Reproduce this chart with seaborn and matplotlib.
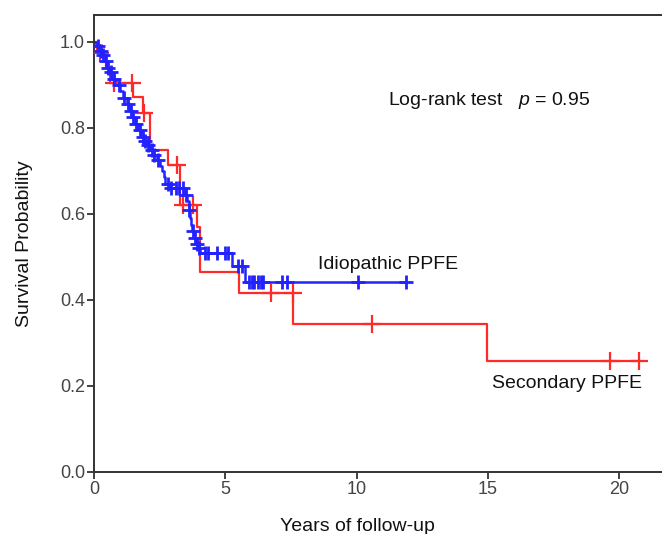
import numpy as np
import pandas as pd
import matplotlib
matplotlib.use("Agg")
import matplotlib.pyplot as plt
import seaborn as sns

# ---------------- data ----------------
# Idiopathic PPFE: Kaplan-Meier step curve (event times, survival after event)
idio_times = [0, 0.08, 0.2, 0.3, 0.4, 0.5, 0.6, 0.7, 0.85, 1.0, 1.1, 1.25, 1.37, 1.45,
              1.55, 1.68, 1.8, 1.9, 2.0, 2.13, 2.25, 2.4, 2.5, 2.6, 2.65, 2.72, 2.9,
              3.45, 3.55, 3.6, 3.65, 3.7, 3.75, 3.8, 3.88, 3.95, 4.04, 5.26, 5.75]
idio_surv = [1.0, 0.99, 0.98, 0.97, 0.955, 0.94, 0.93, 0.915, 0.90, 0.885, 0.87, 0.855,
             0.84, 0.825, 0.81, 0.795, 0.78, 0.77, 0.76, 0.748, 0.737, 0.725, 0.712, 0.70,
             0.685, 0.67, 0.66, 0.645, 0.63, 0.61, 0.59, 0.575, 0.56, 0.545, 0.53, 0.52,
             0.509, 0.479, 0.442]
idio_end = 11.87
idio_censor = [0.15, 0.25, 0.35, 0.45, 0.55, 0.65, 0.78, 0.95, 1.15, 1.3, 1.42, 1.5, 1.6,
               1.75, 1.85, 1.95, 2.05, 2.2, 2.3, 2.45, 2.82, 2.95, 3.12, 3.25, 3.39, 3.5,
               3.62, 3.78, 3.85, 3.92, 4.0, 4.23, 4.34, 4.68, 5.0, 5.11, 5.48, 5.64, 5.91,
               6.02, 6.09, 6.25, 6.36, 6.44, 7.16, 7.35, 10.05, 11.87]

# Secondary PPFE
sec_times = [0, 0.12, 0.45, 0.62, 1.49, 1.85, 2.13, 2.82, 3.27, 3.92, 4.04, 5.52, 7.57, 14.97]
sec_surv = [1.0, 0.975, 0.94, 0.905, 0.872, 0.835, 0.749, 0.714, 0.621, 0.57, 0.465,
            0.416, 0.344, 0.258]
sec_end = 20.75
sec_censor = [0.23, 0.76, 1.45, 1.9, 3.16, 3.39, 3.77, 6.74, 7.56, 10.6, 19.65, 20.75]

x_ticks = [0, 5, 10, 15, 20]
y_ticks = [0.0, 0.2, 0.4, 0.6, 0.8, 1.0]

# ---------------- helpers ----------------
def step_frame(times, surv, end):
    return pd.DataFrame({"t": list(times) + [end], "S": list(surv) + [surv[-1]]})

def censor_frame(times, surv, cens):
    times = np.asarray(times)
    surv = np.asarray(surv)
    idx = np.searchsorted(times, cens, side="right") - 1
    return pd.DataFrame({"t": cens, "S": surv[idx]})

# ---------------- style ----------------
sns.set_style("ticks")
plt.rcParams["font.family"] = ["Liberation Sans", "DejaVu Sans"]
plt.rcParams["mathtext.fontset"] = "custom"
plt.rcParams["mathtext.it"] = "Liberation Sans:italic"
plt.rcParams["mathtext.rm"] = "Liberation Sans"

RED = "#ff2a2a"
BLUE = "#2222ff"
TXT = 14

fig = plt.figure(figsize=(6.62, 5.34), dpi=100)
ax = fig.add_axes([94 / 662, 1 - 472 / 534, 1 - 94 / 662, (472 - 15) / 534])

red_line = step_frame(sec_times, sec_surv, sec_end)
blue_line = step_frame(idio_times, idio_surv, idio_end)

sns.lineplot(data=red_line, x="t", y="S", ax=ax, color=RED, lw=1.6,
             drawstyle="steps-post", estimator=None, sort=False)
sns.scatterplot(data=censor_frame(sec_times, sec_surv, sec_censor), x="t", y="S", ax=ax,
                marker="+", s=150, color=RED, linewidth=1.6, zorder=3)

sns.lineplot(data=blue_line, x="t", y="S", ax=ax, color=BLUE, lw=1.8,
             drawstyle="steps-post", estimator=None, sort=False)
sns.scatterplot(data=censor_frame(idio_times, idio_surv, idio_censor), x="t", y="S", ax=ax,
                marker="+", s=110, color=BLUE, linewidth=2.0, zorder=4)

ax.set_xlim(0, (662 - 94) / 26.26)
ax.set_ylim(0, (472 - 15) / 430)
ax.set_xticks(x_ticks)
ax.set_yticks(y_ticks)
ax.set_xticklabels([str(v) for v in x_ticks])
ax.set_yticklabels([f"{v:.1f}" for v in y_ticks])

tick_font = ["Liberation Sans Narrow", "Liberation Sans", "DejaVu Sans"]
for lab in ax.get_xticklabels() + ax.get_yticklabels():
    lab.set_family(tick_font)
    lab.set_fontsize(13)
    lab.set_color("#444444")
ax.tick_params(axis="both", length=5, width=1.3, color="#333333", pad=1.5)

for side in ["left", "bottom", "top"]:
    ax.spines[side].set_color("#333333")
    ax.spines[side].set_linewidth(1.4)
    ax.spines[side].set_visible(True)
ax.spines["right"].set_visible(False)

ax.set_xlabel("Years of follow-up", fontsize=TXT, color="#111111")
ax.set_ylabel("Survival Probability", fontsize=TXT, color="#111111")
ax.xaxis.set_label_coords((357 - 94) / (662 - 94), -0.1)
ax.yaxis.set_label_coords(-0.108, 0.5)

ax.text(11.2, 0.865, r"Log-rank test   $\mathit{p}$ = 0.95", fontsize=TXT,
        va="center", ha="left", color="#111111")
ax.text(8.53, 0.483, "Idiopathic PPFE", fontsize=TXT, va="center", ha="left",
        color="#111111")
ax.text(15.16, 0.205, "Secondary PPFE", fontsize=TXT, va="center", ha="left",
        color="#111111")

fig.savefig("out.png", dpi=100, facecolor="white")
